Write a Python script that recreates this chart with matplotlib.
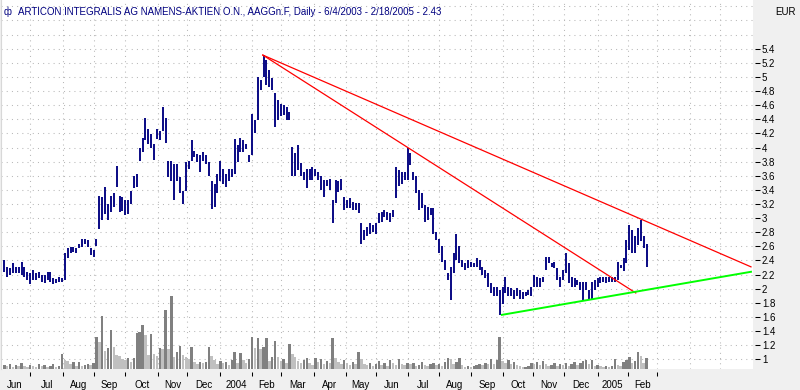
import numpy as np
import pandas as pd
import matplotlib
matplotlib.use('Agg')
import matplotlib.pyplot as plt

plt.rcParams['font.family'] = ['Liberation Sans', 'DejaVu Sans']

# daily chart, one entry per two trading days starting 6/4/2003
start = '2003-06-04'
title = 'ARTICON INTEGRALIS AG NAMENS-AKTIEN O.N., AAGGn.F, Daily - 6/4/2003 - 2/18/2005 - 2.43'

highs = [2.41, 2.31, 2.29, 2.36, 2.31, 2.31, 2.38, 2.31, 2.24, 2.22,
         2.27, 2.22, 2.24, 2.19, 2.19, 2.24, 2.23, 2.15, 2.14, 2.17,
         2.15, 2.50, 2.57, 2.59, 2.59, 2.57, 2.64, 2.71, 2.71, 2.69,
         2.57, 2.55, 2.71, 3.32, 3.30, 3.44, 3.20, 3.32, 3.35, 3.74,
         3.32, 3.30, 3.25, 3.25, 3.39, 3.60, 3.63, 4.00, 4.14, 4.42,
         4.26, 4.19, 4.05, 4.26, 4.24, 4.57, 4.42, 3.81, 3.81, 3.77,
         3.77, 3.58, 3.39, 3.79, 3.81, 4.10, 3.95, 3.91, 3.89, 3.93,
         3.89, 3.79, 3.53, 3.49, 3.63, 3.81, 3.70, 3.63, 3.70, 3.70,
         4.12, 4.03, 4.14, 4.10, 4.05, 3.89, 4.47, 4.39, 5.00, 4.96,
         5.31, 5.24, 5.10, 4.98, 4.77, 4.67, 4.62, 4.60, 4.58, 4.50,
         4.01, 3.92, 4.04, 3.78, 3.66, 3.70, 3.70, 3.73, 3.70, 3.66,
         3.59, 3.54, 3.54, 3.56, 3.26, 3.54, 3.52, 3.56, 3.30, 3.26,
         3.28, 3.23, 3.21, 3.21, 2.93, 2.83, 2.88, 2.93, 2.90, 2.93,
         3.07, 3.09, 3.11, 3.09, 3.07, 3.11, 3.73, 3.68, 3.66, 3.66,
         3.99, 3.92, 3.66, 3.59, 3.40, 3.35, 3.19, 3.16, 3.14, 3.14,
         2.81, 2.71, 2.60, 2.41, 2.22, 2.31, 2.50, 2.78, 2.60, 2.41,
         2.36, 2.41, 2.38, 2.36, 2.43, 2.41, 2.31, 2.27, 2.22, 2.08,
         2.03, 2.03, 1.98, 2.03, 2.17, 2.03, 2.01, 1.98, 2.01, 1.98,
         1.96, 1.96, 1.98, 2.03, 2.19, 2.17, 2.15, 2.17, 2.45, 2.45,
         2.36, 2.38, 2.29, 2.17, 2.26, 2.50, 2.36, 2.17, 2.15, 2.12,
         2.10, 2.10, 2.10, 1.98, 2.10, 2.12, 2.15, 2.17, 2.17, 2.17,
         2.17, 2.17, 2.17, 2.38, 2.34, 2.43, 2.69, 2.90, 2.83, 2.74,
         2.86, 2.97, 2.74, 2.64]

lows = [2.24, 2.17, 2.20, 2.22, 2.22, 2.22, 2.20, 2.17, 2.12, 2.07,
        2.12, 2.12, 2.15, 2.10, 2.08, 2.12, 2.10, 2.07, 2.08, 2.10,
        2.10, 2.12, 2.43, 2.50, 2.52, 2.50, 2.57, 2.59, 2.64, 2.59,
        2.48, 2.45, 2.60, 2.85, 2.97, 3.06, 2.97, 3.09, 3.16, 3.44,
        3.09, 3.10, 3.04, 3.06, 3.20, 3.42, 3.44, 3.81, 3.93, 4.10,
        4.05, 4.00, 3.82, 4.12, 4.10, 4.24, 4.07, 3.58, 3.53, 3.25,
        3.53, 3.35, 3.20, 3.39, 3.70, 3.81, 3.86, 3.79, 3.65, 3.81,
        3.77, 3.60, 3.13, 3.16, 3.35, 3.53, 3.49, 3.44, 3.53, 3.58,
        3.63, 3.79, 3.93, 3.93, 3.98, 3.79, 3.89, 4.20, 4.39, 4.81,
        5.00, 4.88, 4.86, 4.81, 4.29, 4.39, 4.44, 4.46, 4.39, 4.39,
        3.59, 3.59, 3.68, 3.59, 3.54, 3.42, 3.54, 3.54, 3.59, 3.54,
        3.40, 3.30, 3.45, 3.40, 2.93, 3.21, 3.37, 3.40, 3.11, 3.14,
        3.14, 3.12, 3.12, 3.07, 2.64, 2.69, 2.74, 2.78, 2.81, 2.78,
        2.93, 2.95, 3.02, 2.97, 2.95, 3.02, 3.28, 3.45, 3.49, 3.54,
        3.54, 3.75, 3.54, 3.35, 3.12, 3.14, 2.95, 2.97, 3.04, 2.78,
        2.69, 2.50, 2.38, 2.27, 2.12, 1.84, 2.22, 2.41, 2.36, 2.31,
        2.27, 2.29, 2.31, 2.31, 2.31, 2.27, 2.20, 2.15, 2.03, 1.94,
        1.89, 1.89, 1.63, 1.79, 1.94, 1.89, 1.89, 1.86, 1.89, 1.86,
        1.86, 1.89, 1.91, 1.89, 2.03, 2.03, 2.03, 2.10, 2.27, 2.36,
        2.31, 2.29, 2.12, 2.03, 2.12, 2.22, 2.08, 2.03, 2.03, 2.05,
        1.98, 1.82, 1.98, 1.86, 1.84, 1.98, 2.03, 2.08, 2.10, 2.08,
        2.10, 2.10, 2.10, 2.12, 2.29, 2.25, 2.36, 2.55, 2.50, 2.50,
        2.62, 2.67, 2.57, 2.31]

# volume, thousand shares
volume = [4, 3, 5, 2, 4, 3, 6, 3, 2, 4, 3, 2, 5, 3, 4, 2, 3, 5, 2, 3,
          15, 9, 8, 5, 7, 3, 7, 3, 4, 5, 4, 6, 32, 27, 53, 18, 21, 39, 22, 14,
          13, 10, 9, 11, 7, 11, 36, 37, 44, 34, 14, 35, 15, 13, 21, 20, 59, 20, 73, 12,
          17, 23, 14, 12, 10, 22, 7, 5, 7, 6, 7, 22, 13, 9, 5, 8, 6, 7, 4, 9,
          17, 6, 16, 9, 6, 10, 32, 21, 31, 20, 22, 31, 8, 12, 28, 12, 8, 10, 6, 25,
          15, 12, 8, 6, 9, 11, 6, 4, 11, 7, 10, 5, 8, 6, 31, 11, 7, 5, 9, 6,
          4, 7, 5, 17, 10, 5, 4, 6, 3, 5, 8, 4, 6, 3, 9, 6, 4, 10, 5, 4,
          6, 5, 6, 3, 4, 7, 4, 3, 5, 6, 4, 5, 3, 7, 11, 10, 5, 7, 11, 4,
          2, 3, 2, 3, 4, 5, 4, 6, 5, 10, 5, 9, 32, 8, 6, 9, 5, 7, 4, 3,
          2, 2, 3, 6, 5, 7, 4, 8, 5, 3, 4, 6, 3, 5, 4, 6, 3, 5, 7, 4,
          6, 8, 9, 5, 9, 3, 4, 3, 2, 3, 2, 3, 10, 4, 3, 7, 9, 12, 6, 8,
          17, 13, 6, 11]

# trend lines: (start date, price, end date, price)
red_lines = [('2004-02-11', 5.31, '2005-05-31', 2.31),
             ('2004-02-11', 5.31, '2005-02-08', 1.94)]
green_lines = [('2004-09-30', 1.63, '2005-05-31', 2.24)]

# trading-day calendar (day 0 = first bar)
cal = pd.bdate_range('2003-06-02', '2005-06-30')
day0 = cal.get_loc(pd.Timestamp(start))


def dpos(d):
    return cal.searchsorted(pd.Timestamp(d)) - day0


n = len(highs)
x = 2 * np.arange(n) + 0.5

fig = plt.figure(figsize=(8, 3.9), dpi=100, facecolor='#f0f0f0')
ax = fig.add_axes([1 / 800, 21 / 390, 752 / 800, 369 / 390])
ax.set_facecolor('white')
axv = ax.twinx()

ax.set_xlim(-1.8, 520.4)
ax.set_ylim(0.863, 6.09)

# grid
dots = (0, (1, 4))
for yv in np.arange(1.0, 6.01, 0.2):
    ax.axhline(yv, color='#b8b8b8', lw=0.75, ls=dots, zorder=0)
grid_months = pd.date_range('2003-07-01', '2005-05-01', freq='MS')
month_pos = [dpos(m) - 0.5 for m in grid_months]
for xv in month_pos:
    ax.axvline(xv, color='#b8b8b8', lw=0.75, ls=dots, zorder=0)

# volume: darker bar when volume rises
vcol = ['#808080' if i == 0 or volume[i] >= volume[i - 1] else '#c0c0c0' for i in range(n)]
axv.bar(x, volume, width=1.7, color=vcol, linewidth=0)
axv.set_ylim(0, 369)
axv.set_axis_off()

# price bars
ax.vlines(x, lows, highs, color='#000080', lw=1.35, zorder=3)

for d1, p1, d2, p2 in red_lines:
    ax.plot([dpos(d1), dpos(d2)], [p1, p2], color='#ff0000', lw=0.9, zorder=4)
for d1, p1, d2, p2 in green_lines:
    ax.plot([dpos(d1), dpos(d2)], [p1, p2], color='#00ff00', lw=1.4, zorder=4)

# y axis on the right
ax.yaxis.tick_right()
yt = np.arange(1.0, 5.41, 0.2)
ax.set_yticks(yt)
ax.set_yticklabels([f'{round(v, 1):g}' for v in yt])
ax.tick_params(axis='y', length=0, pad=6.5, labelsize=7)
ax.hlines(yt, 1 + 2 / 752, 1 + 7 / 752, transform=ax.get_yaxis_transform(),
          clip_on=False, color='black', lw=0.75)

# x axis months
label_months = pd.date_range('2003-06-01', '2005-03-01', freq='MS')
starts = [dpos(m) - 0.5 for m in label_months]
mid_pos = [(a + b) / 2 for a, b in zip(starts[:-1], starts[1:])]
mlabels = [str(m.year) if m.month == 1 else m.strftime('%b') for m in label_months[:-1]]
ax.set_xticks(starts[1:])
ax.set_xticklabels([''] * len(starts[1:]))
ax.set_xticks(mid_pos, minor=True)
ax.set_xticklabels(mlabels, minor=True)
ax.tick_params(axis='x', which='both', length=0, labelsize=7)
ax.tick_params(axis='x', which='minor', pad=8)
ax.vlines(starts[1:], -7 / 369, -3 / 369, transform=ax.get_xaxis_transform(),
          clip_on=False, color='black', lw=0.75)

for s in ax.spines.values():
    s.set_visible(False)
ax.spines['left'].set_visible(True)
ax.spines['left'].set_color('#d8d8d8')

fig.text(4 / 800, 1 - 12 / 390, 'ф', color='#000080', fontsize=7, va='center')
fig.text(18 / 800, 1 - 12 / 390, title, color='#000080', fontsize=7, va='center')
fig.text(785 / 800, 1 - 12 / 390, 'EUR', ha='center', va='center', fontsize=7)

fig.savefig('out.png', dpi=100, facecolor=fig.get_facecolor())
